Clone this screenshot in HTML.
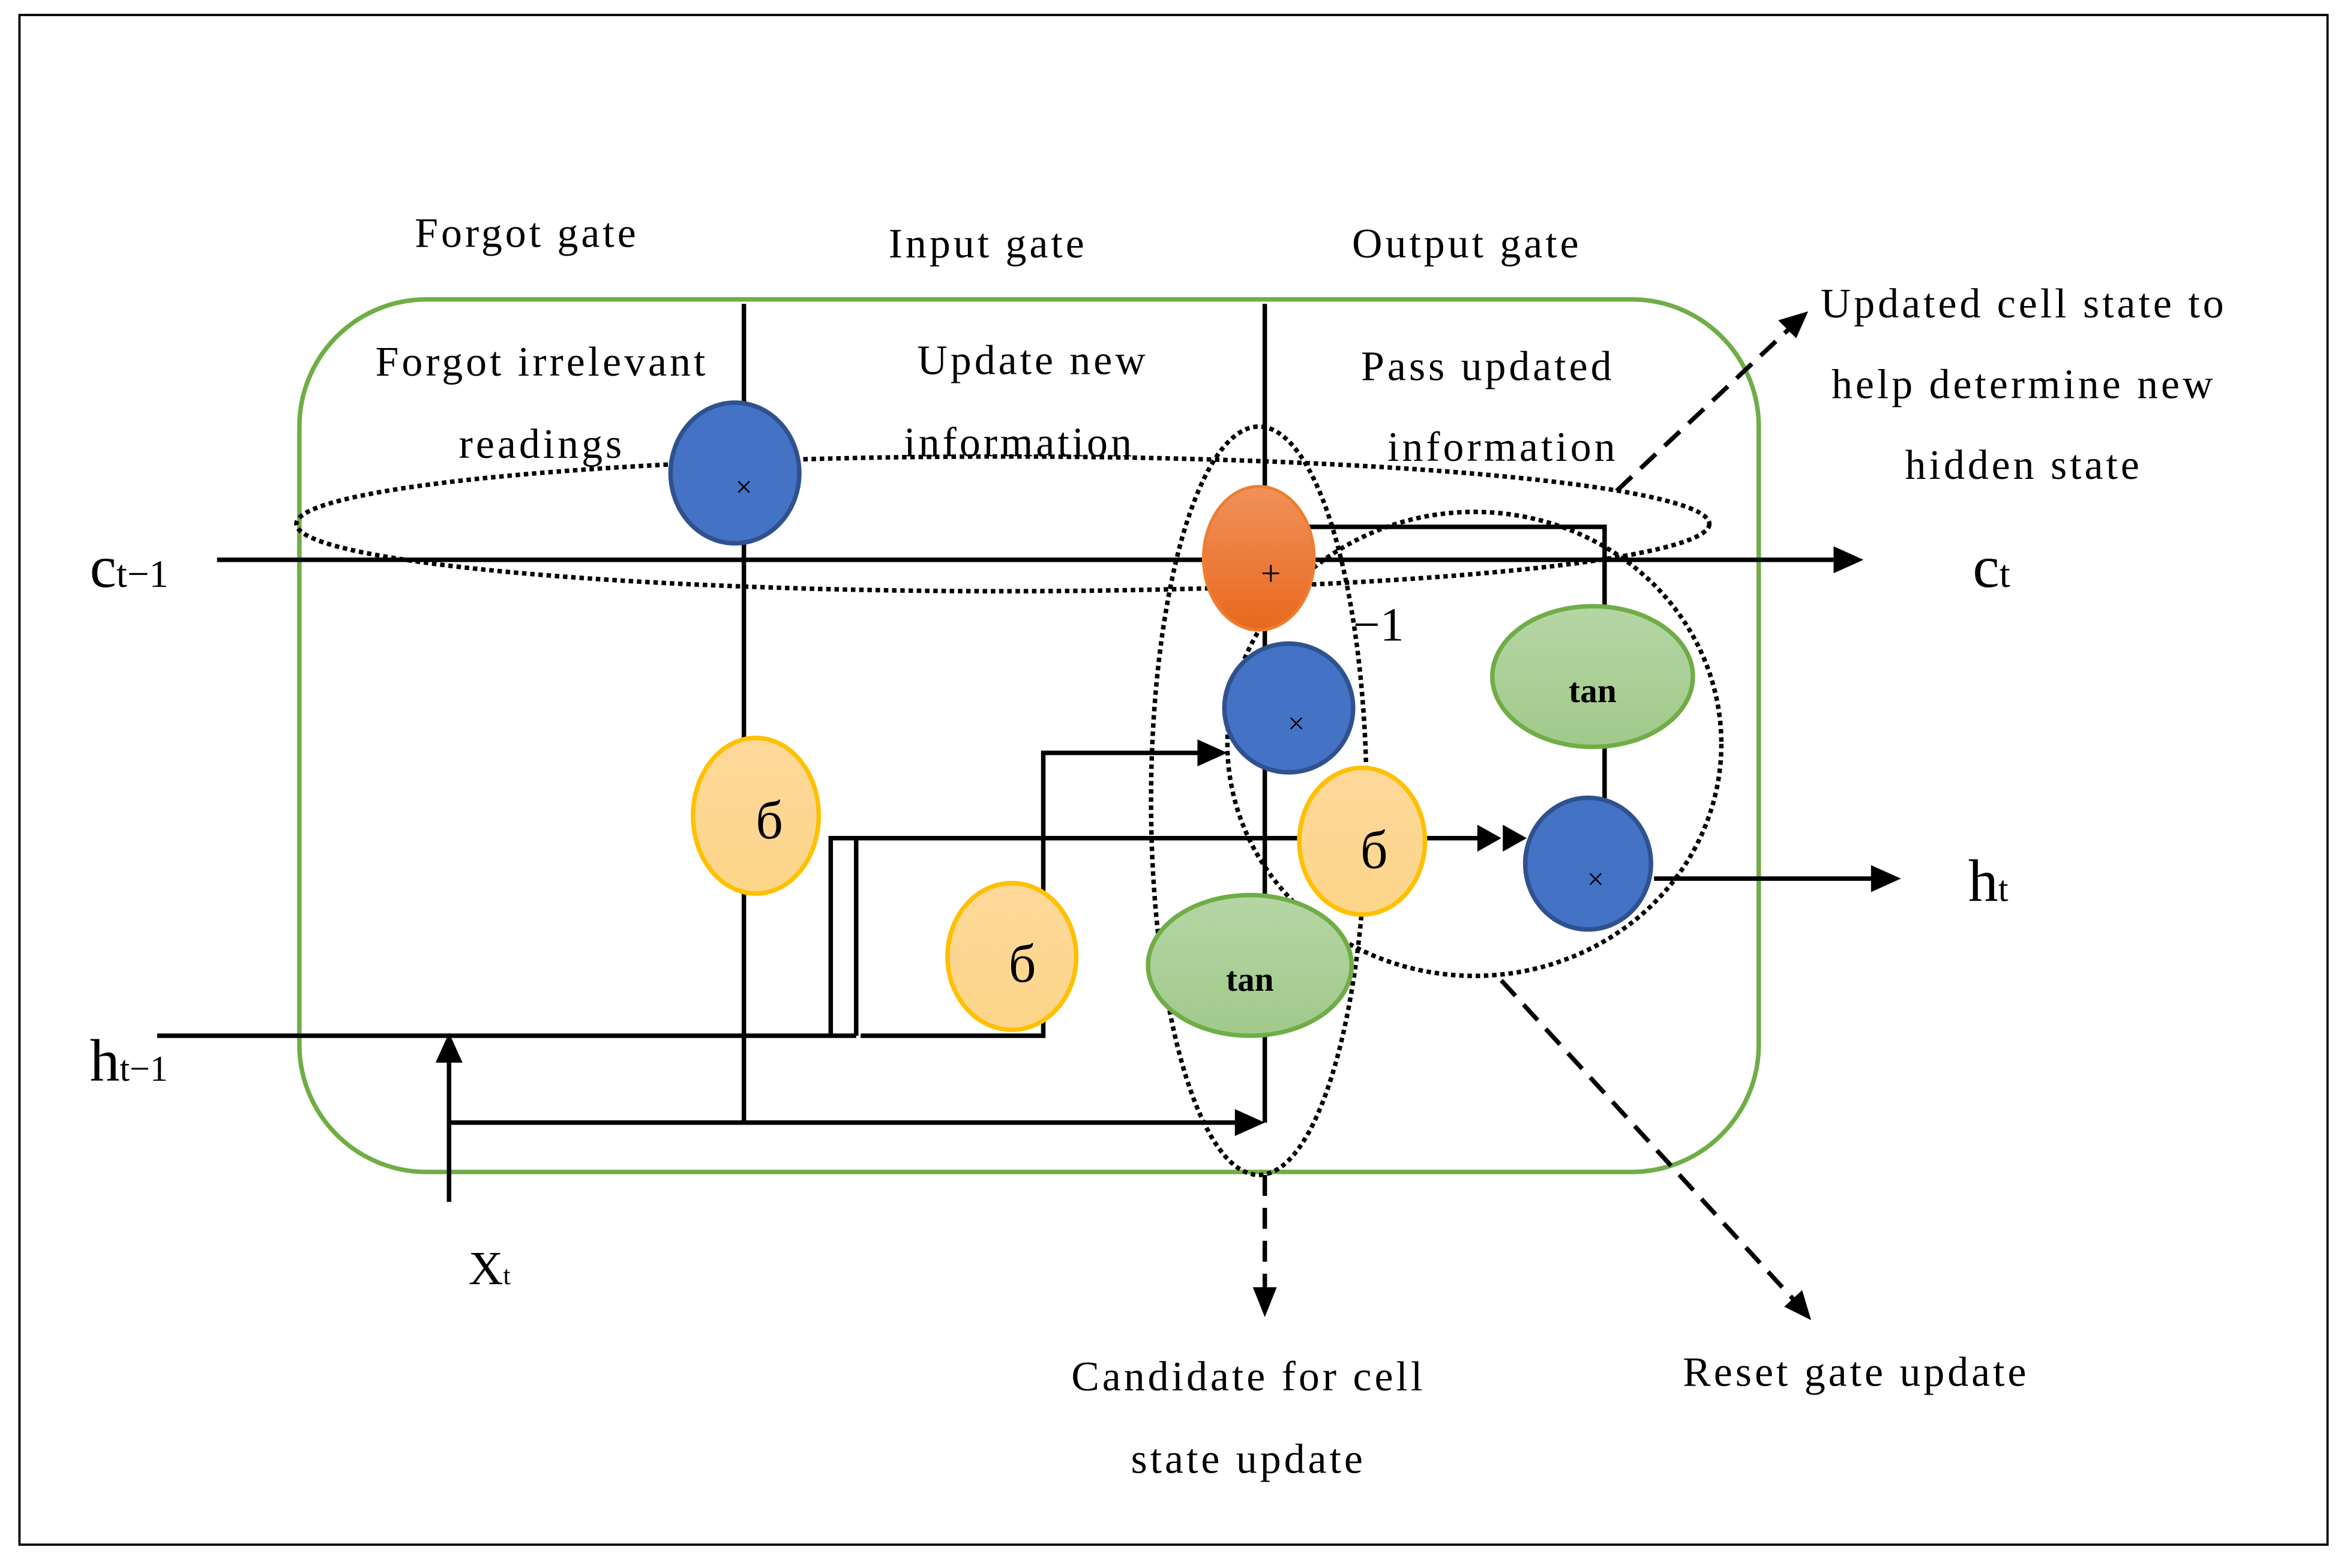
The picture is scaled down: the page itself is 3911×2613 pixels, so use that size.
<!DOCTYPE html>
<html><head><meta charset="utf-8"><style>html,body{margin:0;padding:0;background:#fff}svg{display:block}</style></head><body>
<svg width="3911" height="2613" viewBox="0 0 1568 1047.6" xmlns="http://www.w3.org/2000/svg" font-family="Liberation Serif, serif">
<defs>
<linearGradient id="go" x1="0" y1="0" x2="0" y2="1"><stop offset="0" stop-color="#f0915a"/><stop offset="1" stop-color="#e8691e"/></linearGradient>
<linearGradient id="gg" x1="0" y1="0" x2="0" y2="1"><stop offset="0" stop-color="#b5d6a5"/><stop offset="1" stop-color="#a1c98b"/></linearGradient>
<linearGradient id="gy" x1="0" y1="0" x2="0" y2="1"><stop offset="0" stop-color="#fdd899"/><stop offset="1" stop-color="#fdd68a"/></linearGradient>
</defs>
<rect x="13" y="10" width="1542" height="1022" fill="none" stroke="#000" stroke-width="1.5"/>
<rect x="200" y="200" width="975" height="583" rx="85" fill="none" stroke="#70ad47" stroke-width="3"/>
<g stroke="#000" stroke-width="3" fill="none">
<line x1="145" y1="374" x2="1228" y2="374"/>
<line x1="497" y1="203" x2="497" y2="750"/>
<line x1="845" y1="203" x2="845" y2="750"/>
<polyline points="870,352 1072,352 1072,410"/>
<line x1="1072" y1="495" x2="1072" y2="535"/>
<line x1="1105" y1="587" x2="1252" y2="587"/>
<line x1="105" y1="692" x2="572" y2="692"/>
<polyline points="555,692 555,560 868,560"/>
<line x1="572" y1="560" x2="572" y2="692"/>
<polyline points="575,692 697,692 697,503 803,503"/>
<line x1="953" y1="560" x2="1000" y2="560"/>
<line x1="300" y1="750" x2="828" y2="750"/>
<line x1="300" y1="803" x2="300" y2="708"/>
</g>
<g fill="#000">
<path d="M1245,374 l-20,-9 v18z"/>
<path d="M1270,587 l-20,-9 v18z"/>
<path d="M820,503 l-20,-9 v18z"/>
<path d="M845,750 l-20,-9 v18z"/>
<path d="M300,690 l-9,20 h18z"/>
<path d="M1003,560 l-16,-9 v18z M1020,560 l-16,-9 v18z"/>
</g>
<g fill="none" stroke="#000" stroke-width="3" stroke-dasharray="3,2.5">
<ellipse cx="670" cy="350" rx="472" ry="45"/>
<ellipse cx="841" cy="535" rx="72" ry="250"/>
<ellipse cx="985" cy="497" rx="165" ry="155"/>
</g>
<g stroke="#000" stroke-width="3" stroke-dasharray="14,8">
<line x1="1080" y1="328" x2="1195" y2="220"/>
<line x1="1003" y1="655" x2="1198" y2="868"/>
<line x1="845" y1="785" x2="845" y2="862"/>
</g>
<g fill="#000">
<path d="M1208,208 l-20,6 l12,12z"/>
<path d="M1210,882 l-6,-20 l-12,11z"/>
<path d="M845,880 l-8,-20 h16z"/>
</g>
<ellipse cx="491" cy="316" rx="43" ry="47" fill="#4472c4" stroke="#2f528f" stroke-width="3"/>
<ellipse cx="505" cy="545" rx="42" ry="52" fill="url(#gy)" stroke="#ffc000" stroke-width="3"/>
<ellipse cx="841" cy="373" rx="37" ry="48" fill="url(#go)" stroke="#ed7d31" stroke-width="2"/>
<ellipse cx="861" cy="473" rx="43" ry="43" fill="#4472c4" stroke="#2f528f" stroke-width="3"/>
<ellipse cx="910" cy="562" rx="42" ry="49" fill="url(#gy)" stroke="#ffc000" stroke-width="3"/>
<ellipse cx="835" cy="645" rx="68" ry="47" fill="url(#gg)" stroke="#70ad47" stroke-width="3"/>
<ellipse cx="676" cy="639" rx="43" ry="49" fill="url(#gy)" stroke="#ffc000" stroke-width="3"/>
<ellipse cx="1064" cy="452" rx="67" ry="47" fill="url(#gg)" stroke="#70ad47" stroke-width="3"/>
<ellipse cx="1061" cy="577" rx="42" ry="44" fill="#4472c4" stroke="#2f528f" stroke-width="3"/>
<g fill="#000" text-anchor="middle">
<text x="497" y="332" font-size="20">×</text>
<text x="866" y="490" font-size="20">×</text>
<text x="1066" y="594" font-size="20">×</text>
<text x="849" y="391" font-size="24">+</text>
<text x="514" y="560" font-size="36">б</text>
<text x="918" y="580" font-size="36">б</text>
<text x="683" y="656" font-size="36">б</text>
<text x="835" y="662" font-size="23" font-weight="bold">tan</text>
<text x="1064" y="469" font-size="23" font-weight="bold">tan</text>
</g>
<g fill="#000" text-anchor="middle" font-size="28" letter-spacing="2">
<text x="352" y="165">Forgot gate</text>
<text x="660" y="172">Input gate</text>
<text x="980" y="172">Output gate</text>
<text x="362" y="251">Forgot irrelevant</text>
<text x="362" y="306">readings</text>
<text x="690" y="250">Update   new</text>
<text x="681" y="305">information</text>
<text x="994" y="254">Pass updated</text>
<text x="1004" y="308">information</text>
<text x="1352" y="212">Updated cell state to</text>
<text x="1352" y="266">help determine new</text>
<text x="1352" y="320">hidden state</text>
<text x="834" y="929">Candidate for cell</text>
<text x="834" y="984">state update</text>
<text x="1240" y="926">Reset gate update</text>
<text x="921" y="428" font-size="32" letter-spacing="0">−1</text>
</g>
<g fill="#000" font-size="40">
<text x="60" y="392">c<tspan font-size="26">t−1</tspan></text>
<text x="1318" y="392">c<tspan font-size="26">t</tspan></text>
<text x="60" y="722">h<tspan font-size="24">t−1</tspan></text>
<text x="1315" y="602">h<tspan font-size="24">t</tspan></text>
<text x="313" y="858" font-size="32">X<tspan font-size="18">t</tspan></text>
</g>
</svg>
</body></html>
